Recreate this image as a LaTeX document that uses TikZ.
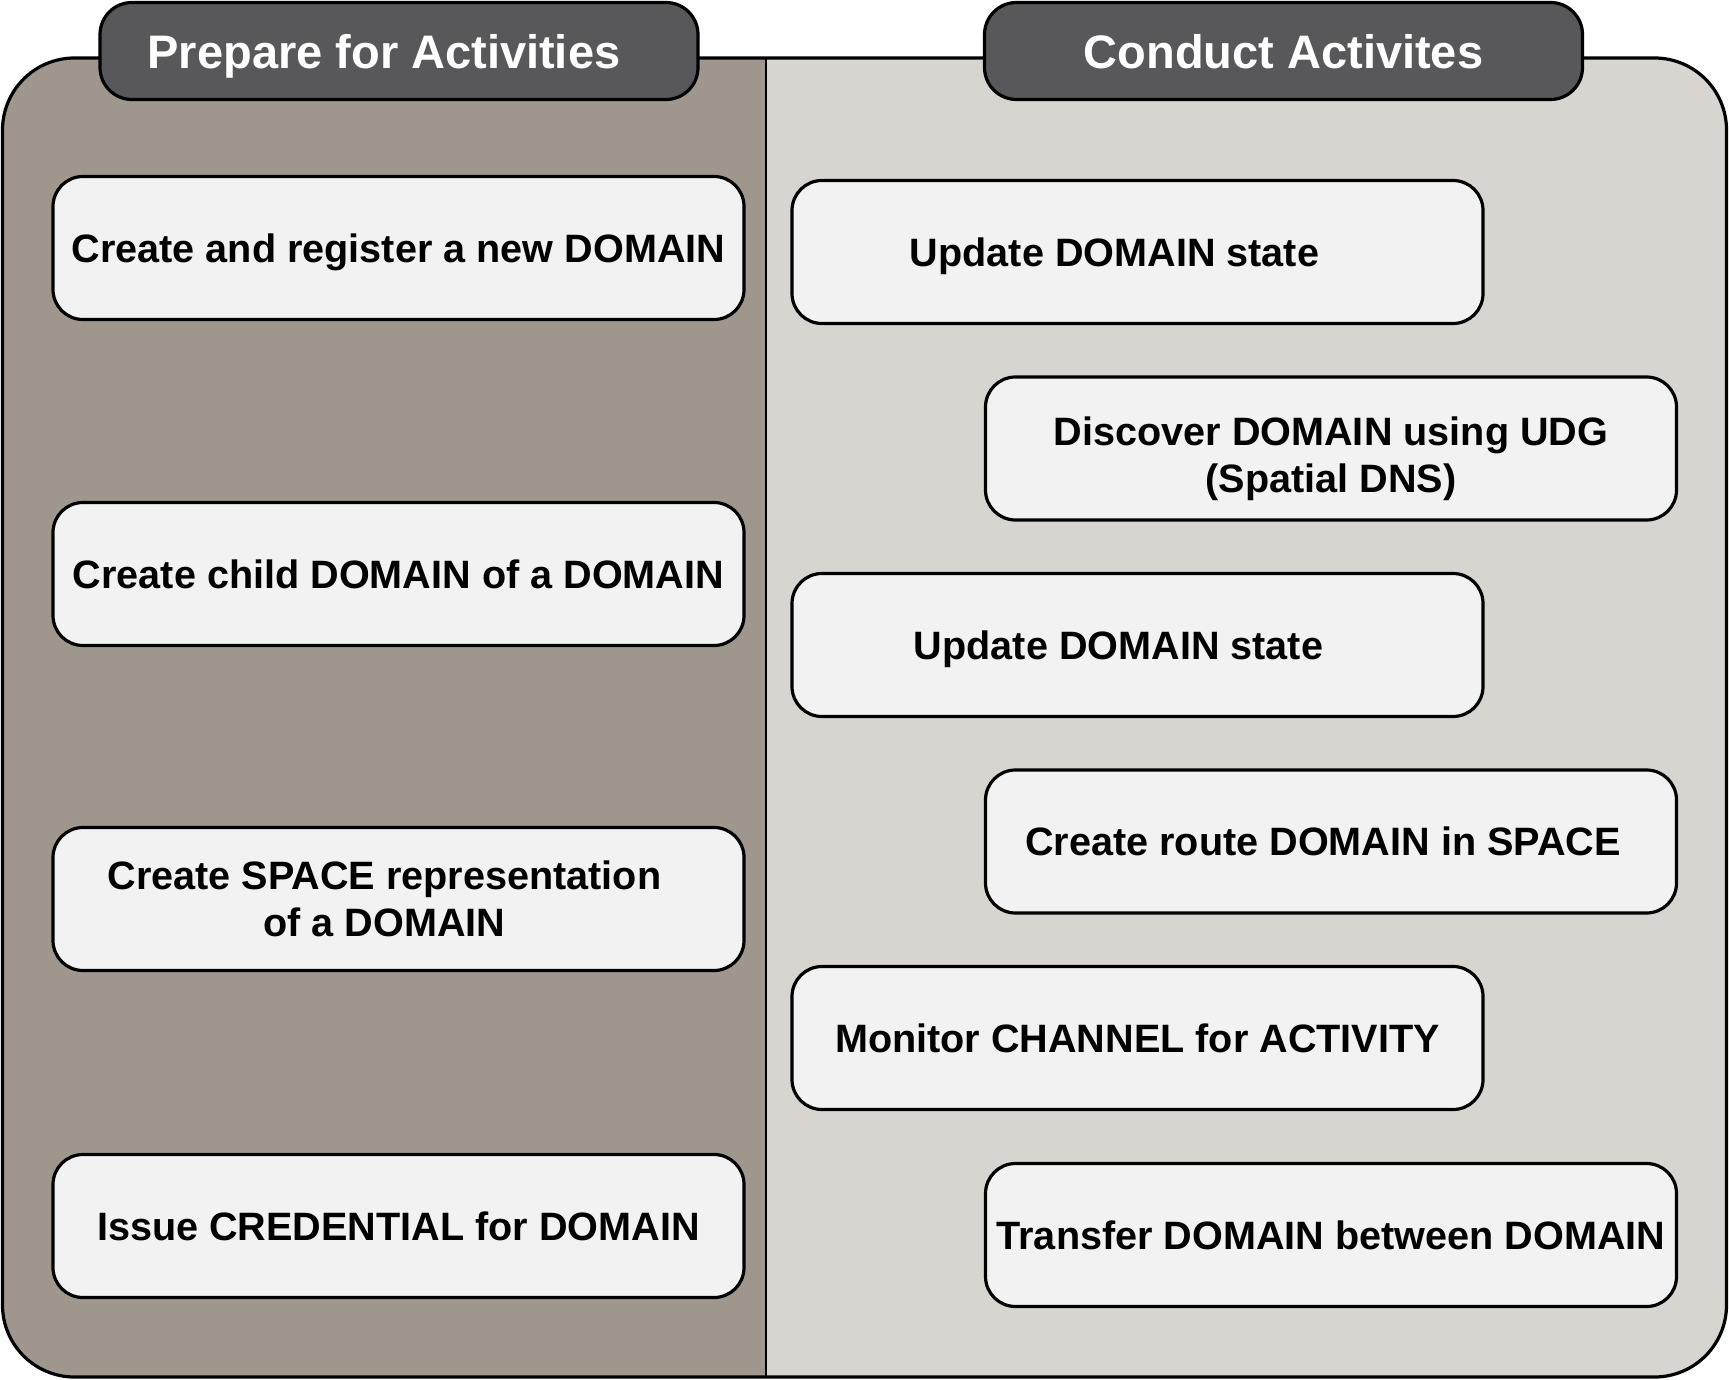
\documentclass[tikz,border=0pt]{standalone}
\usepackage{fontspec}
\setmainfont{Liberation Sans}
\usepackage{xcolor}
\usetikzlibrary{positioning}
\definecolor{prepfill}{HTML}{9F978E}
\definecolor{condfill}{HTML}{D8D5D0}
\definecolor{tabfill}{HTML}{58585A}
\definecolor{boxfill}{HTML}{F2F2F2}

\begin{document}
\begin{tikzpicture}[x=0.5pt, y=-0.5pt, box/.style={draw,line width=1.6pt,rounded corners=15pt,fill=boxfill,align=center,text depth=0pt,minimum width=345.5pt,minimum height=71.5pt,font=\fontsize{19.8}{23.5}\selectfont\bfseries}, tab/.style={draw,line width=1.6pt,rounded corners=16pt,fill=tabfill,text=white,text depth=0pt,minimum width=299pt,minimum height=48.5pt,font=\fontsize{23.5}{28}\selectfont\bfseries}, frame/.style={line width=1.6pt,rounded corners=36pt}]
\useasboundingbox (0,0) rectangle (1729,1380);
% two panels
\fill[condfill,rounded corners=36pt] (2.5,58) rectangle (1726.5,1377);
\begin{scope}
\clip (0,0) rectangle (766,1380);
\fill[prepfill,rounded corners=36pt] (2.5,58) rectangle (1726.5,1377);
\end{scope}
\draw[line width=1pt] (766,58) -- (766,1377);
\draw[frame] (2.5,58) rectangle (1726.5,1377);
% titles
\node[tab] (prep) at (399,51) {Prepare for Activities\hspace*{15pt}};
\node[tab] (conduct) at (1283.5,51) {Conduct Activites};
% left column
\node[box] (newdomain) at (398.5,248) {Create and register a new DOMAIN};
\node[box] (childdomain) at (398.5,574) {Create child DOMAIN of a DOMAIN};
\node[box] (spacerep) at (398.5,899) {Create SPACE representation\hspace*{14pt}\\of a DOMAIN\hspace*{14pt}};
\node[box] (credential) at (398.5,1226) {Issue CREDENTIAL for DOMAIN};
% right column
\node[box] (update1) at (1137.5,252) {Update DOMAIN state\hspace*{23pt}};
\node[box] (discover) at (1331,448.5) {\rule{0pt}{20pt}Discover DOMAIN using UDG\\(Spatial DNS)};
\node[box] (update2) at (1137.5,645) {Update DOMAIN state\hspace*{19pt}};
\node[box] (route) at (1331,841.5) {Create route DOMAIN in SPACE\hspace*{8pt}};
\node[box] (monitor) at (1137.5,1038) {Monitor CHANNEL for ACTIVITY};
\node[box] (transfer) at (1331,1235) {Transfer DOMAIN between DOMAIN};
\end{tikzpicture}
\end{document}
